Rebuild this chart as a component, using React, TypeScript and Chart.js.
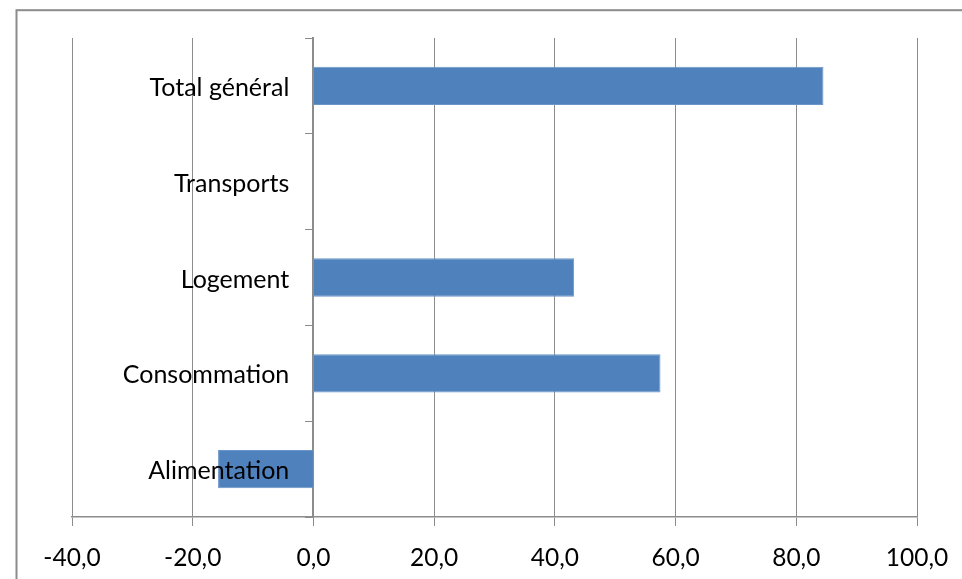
import React, { useEffect, useRef } from 'react';
import { Chart, registerables } from 'chart.js';

Chart.register(...registerables);

const categories: string[] = ['Total général', 'Transports', 'Logement', 'Consommation', 'Alimentation'];
const values: number[] = [84.5, 0, 43.2, 57.5, -15.8];
const xMin = -40;
const xMax = 100;
const xStep = 20;

const FONT = 'Lato';
const GRID = '#8c8c8c';

const framePlugin = {
  id: 'frame',
  beforeDraw(chart: any) {
    const ctx = chart.ctx;
    ctx.save();
    ctx.strokeStyle = GRID;
    ctx.lineWidth = 2;
    ctx.strokeRect(16.5, 10.2, 1200, 1200);
    ctx.restore();
  },
};

export default function App() {
  const ref = useRef<HTMLCanvasElement | null>(null);
  useEffect(() => {
    if (!ref.current) return;
    const chart = new Chart(ref.current, {
      type: 'bar',
      data: {
        labels: categories,
        datasets: [
          {
            data: values,
            backgroundColor: '#4f81bd',
            borderColor: '#6b95c9',
            borderWidth: 1,
            barPercentage: 0.4,
            categoryPercentage: 1,
            yAxisID: 'y',
          },
        ],
      },
      options: {
        indexAxis: 'y',
        animation: false,
        responsive: false,
        layout: { padding: { left: 72, right: 45, top: 38, bottom: 0 } },
        plugins: { legend: { display: false }, tooltip: { enabled: false } },
        scales: {
          x: {
            type: 'linear',
            position: 'bottom',
            min: xMin,
            max: xMax,
            afterFit: (s: any) => {
              s.height = 62;
              s.paddingLeft = 0;
              s.paddingRight = 0;
            },
            ticks: {
              stepSize: xStep,
              color: '#000',
              padding: 19,
              font: { family: FONT, size: 24.5, lineHeight: 1.05 },
              callback: (v: any) => Number(v).toFixed(1).replace('.', ','),
            },
            grid: { color: GRID, lineWidth: 1, tickLength: 9, drawTicks: true },
            border: { display: true, color: GRID, width: 1.5 },
          },
          y: {
            type: 'category',
            position: { x: 0 } as any,
            ticks: { display: false },
            grid: { offset: true, drawOnChartArea: false, drawTicks: true, tickLength: 7, color: GRID },
            border: { display: true, color: GRID, width: 2 },
          },
          yl: {
            type: 'category',
            position: { x: -4 } as any,
            ticks: {
              color: '#000',
              padding: 0,
              z: 1,
              labelOffset: 2,
              font: { family: FONT, size: 25 },
            },
            grid: { display: false, drawTicks: false },
            border: { display: false },
          } as any,
        },
      },
      plugins: [framePlugin],
    });
    return () => chart.destroy();
  }, []);
  return (
    <div style={{ position: 'absolute', left: 0, top: 0, width: 962, height: 579, background: '#fff' }}>
      <canvas ref={ref} width={962} height={579} style={{ display: 'block' }} />
    </div>
  );
}
